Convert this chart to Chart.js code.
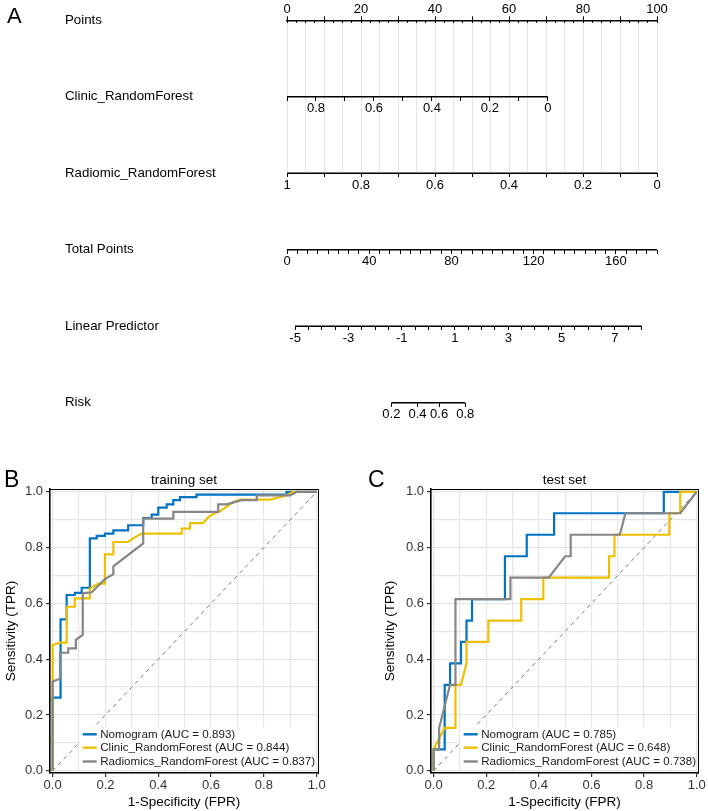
<!DOCTYPE html>
<html><head><meta charset="utf-8">
<script src="https://cdn.jsdelivr.net/npm/chart.js@4.4.1/dist/chart.umd.min.js"></script>
<style>
html,body{margin:0;padding:0;background:#fff;}
#wrap{position:relative;width:708px;height:811px;overflow:hidden;background:#fff;}
canvas{position:absolute;}
.lbl{position:absolute;font-family:"Liberation Sans",Arial,Helvetica,sans-serif;line-height:1;color:#000;}
</style></head><body>
<div id="wrap">
<canvas id="nomo" width="708" height="430" style="left:0;top:0"></canvas>
<canvas id="rocB" width="354" height="371" style="left:0;top:440px"></canvas>
<canvas id="rocC" width="354" height="371" style="left:354px;top:440px"></canvas>
<div class="lbl" style="left:7px;top:5px;font-size:22px">A</div>
<div class="lbl" style="left:4px;top:468px;font-size:23px">B</div>
<div class="lbl" style="left:368px;top:468px;font-size:23px">C</div>
</div>
<script>
const FONT = '"Liberation Sans", Arial, Helvetica, sans-serif';
Chart.defaults.font.family = FONT;
Chart.defaults.color = '#000';

// ================= Panel A : nomogram =================
const nomoRowLabels = ['Points', 'Clinic_RandomForest', 'Radiomic_RandomForest', 'Total Points', 'Linear Predictor', 'Risk'];
const nomoRowPos = [5, 4, 3, 2, 1, 0];

const pointsTicks = [0, 10, 20, 30, 40, 50, 60, 70, 80, 90, 100];
const pointsTickLabels = ['0', '', '20', '', '40', '', '60', '', '80', '', '100'];
const pointsMinorTicks = [0, 2.5, 5, 7.5, 10, 12.5, 15, 17.5, 20, 22.5, 25, 27.5, 30, 32.5, 35, 37.5, 40, 42.5, 45, 47.5, 50,
  52.5, 55, 57.5, 60, 62.5, 65, 67.5, 70, 72.5, 75, 77.5, 80, 82.5, 85, 87.5, 90, 92.5, 95, 97.5, 100];
const pointsGridStep = 5;

const clinicTicks = [0.9, 0.8, 0.7, 0.6, 0.5, 0.4, 0.3, 0.2, 0.1, 0];
const clinicTickLabels = ['', '0.8', '', '0.6', '', '0.4', '', '0.2', '', '0'];
const clinicEndPoints = [0, 70.5];      // points at first / last tick

const radiomicTicks = [1, 0.9, 0.8, 0.7, 0.6, 0.5, 0.4, 0.3, 0.2, 0.1, 0];
const radiomicTickLabels = ['1', '', '0.8', '', '0.6', '', '0.4', '', '0.2', '', '0'];
const radiomicEndPoints = [0, 100];

const totalTicks = [0, 5, 10, 15, 20, 25, 30, 35, 40, 45, 50, 55, 60, 65, 70, 75, 80, 85, 90, 95, 100, 105, 110, 115, 120,
  125, 130, 135, 140, 145, 150, 155, 160, 165, 170, 175, 180];
const totalLabelled = [0, 40, 80, 120, 160];
const totalEndPoints = [0, 100];

const lpTicks = [-5, -4.5, -4, -3.5, -3, -2.5, -2, -1.5, -1, -0.5, 0, 0.5, 1, 1.5, 2, 2.5, 3, 3.5, 4, 4.5, 5, 5.5, 6, 6.5, 7, 7.5, 8];
const lpLabelled = [-5, -3, -1, 1, 3, 5, 7];
const lpEndPoints = [2.2, 95.8];

const riskTicks = [0.2, 0.4, 0.6, 0.8];
const riskTickLabels = ['0.2', '0.4', '0.6', '0.8'];

const totalTickLabels = totalTicks.map(v => totalLabelled.includes(v) ? String(v) : '');
const lpTickLabels = lpTicks.map(v => lpLabelled.includes(v) ? String(v) : '');
const logit = p => Math.log(p / (1 - p));

function rowScale(ticks, labels, endPts, row, tickValues) {
  const vA = ticks[0], vB = ticks[ticks.length - 1];
  const slope = (vB - vA) / (endPts[1] - endPts[0]);
  const vL = vA + (0 - endPts[0]) * slope;
  const vR = vA + (100 - endPts[0]) * slope;
  const tv = tickValues || ticks;
  return {
    axis: 'x', type: 'linear', position: {y: row},
    min: Math.min(vL, vR), max: Math.max(vL, vR), reverse: vL > vR,
    afterBuildTicks: s => { s.ticks = tv.map(v => ({value: v})); },
    ticks: {autoSkip: false, maxRotation: 0, minRotation: 0, padding: 0, color: '#000',
      font: {size: 13}, callback: (v, i) => labels[i]},
    grid: {drawOnChartArea: false, drawTicks: true, tickLength: 4, tickColor: '#000', tickWidth: 1},
    border: {display: false}
  };
}
function axisLine(scaleId, v0, v1, row) {
  return {data: [{x: v0, y: row}, {x: v1, y: row}], xAxisID: scaleId, yAxisID: 'y', showLine: true,
    borderColor: '#000', borderWidth: 1.5, pointRadius: 0, clip: false};
}

new Chart(document.getElementById('nomo'), {
  type: 'scatter',
  data: {datasets: [
    axisLine('xClin', clinicTicks[0], clinicTicks[clinicTicks.length - 1], 4),
    axisLine('xRad', radiomicTicks[0], radiomicTicks[radiomicTicks.length - 1], 3),
    axisLine('xTot', totalTicks[0], totalTicks[totalTicks.length - 1], 2),
    axisLine('xLP', lpTicks[0], lpTicks[lpTicks.length - 1], 1),
    axisLine('xRisk', logit(riskTicks[0]), logit(riskTicks[riskTicks.length - 1]), 0)
  ]},
  options: {
    responsive: false, animation: false, events: [],
    layout: {padding: {left: 65, right: 51, top: 0, bottom: 256.7}},
    plugins: {legend: {display: false}, tooltip: {enabled: false}},
    scales: {
      y: {type: 'linear', position: 'left', min: 3, max: 5,
        afterFit: s => { s.width = 222; },
        afterBuildTicks: s => { s.ticks = nomoRowPos.map(v => ({value: v})); },
        ticks: {autoSkip: false, crossAlign: 'far', padding: 0, color: '#000', font: {size: 13.3},
          callback: (v, i) => nomoRowLabels[i]},
        grid: {display: false}, border: {display: false}},
      x: {type: 'linear', position: 'top', min: 0, max: 100,
        afterFit: s => { s.height = 20.3; },
        afterBuildTicks: s => { s.ticks = pointsTicks.map(v => ({value: v})); },
        ticks: {autoSkip: false, maxRotation: 0, padding: -1, color: '#000', font: {size: 13},
          callback: (v, i) => pointsTickLabels[i]},
        grid: {color: '#c4c4c4', lineWidth: 1, tickLength: 4, tickColor: '#000', tickWidth: 1},
        border: {color: '#000', width: 1.5}},
      xMinor: {axis: 'x', type: 'linear', position: {y: 5}, min: 0, max: 100, z: -1,
        afterBuildTicks: s => { s.ticks = pointsMinorTicks.map(v => ({value: v})); },
        ticks: {display: false},
        grid: {color: c => (c.tick && c.tick.value % pointsGridStep === 0) ? '#e6e6e6' : 'rgba(0,0,0,0)',
          lineWidth: 1, tickLength: 3, tickColor: '#000', tickWidth: 1},
        border: {display: false}},
      xClin: rowScale(clinicTicks, clinicTickLabels, clinicEndPoints, 4),
      xRad: rowScale(radiomicTicks, radiomicTickLabels, radiomicEndPoints, 3),
      xTot: rowScale(totalTicks, totalTickLabels, totalEndPoints, 2),
      xLP: rowScale(lpTicks, lpTickLabels, lpEndPoints, 1),
      xRisk: rowScale(lpTicks, riskTickLabels, lpEndPoints, 0, riskTicks.map(logit))
    }
  }
});

// ================= Panels B, C : ROC curves =================
const rocGrid = [0, 0.1, 0.2, 0.3, 0.4, 0.5, 0.6, 0.7, 0.8, 0.9, 1];
const rocTickLabels = ['0.0', '', '0.2', '', '0.4', '', '0.6', '', '0.8', '', '1.0'];
const seriesNames = ['Nomogram', 'Clinic_RandomForest', 'Radiomics_RandomForest'];
const seriesColors = ['#0073C2', '#EFC000', '#868686'];
const trainAUC = ['0.893', '0.844', '0.837'];
const testAUC = ['0.785', '0.648', '0.738'];
const diagFPR = [0, 1];
const diagTPR = [0, 1];

// training set
const trainNomoFPR = [0, 0, 0.03, 0.03, 0.053, 0.053, 0.084, 0.084, 0.11, 0.11, 0.141, 0.141, 0.167, 0.167, 0.198, 0.198, 0.23, 0.23,
  0.286, 0.286, 0.343, 0.343, 0.375, 0.375, 0.4, 0.4, 0.432, 0.432, 0.457, 0.457, 0.482, 0.482, 0.545, 0.545, 0.886, 0.886, 1];
const trainNomoTPR = [0, 0.262, 0.262, 0.543, 0.543, 0.63, 0.63, 0.638, 0.638, 0.656, 0.656, 0.833, 0.833, 0.842, 0.842, 0.85, 0.85, 0.862,
  0.862, 0.88, 0.88, 0.906, 0.906, 0.918, 0.918, 0.943, 0.943, 0.955, 0.955, 0.97, 0.97, 0.981, 0.981, 0.99, 0.99, 1, 1];
const trainClinFPR = [0, 0, 0.028, 0.053, 0.053, 0.084, 0.084, 0.141, 0.141, 0.173, 0.198, 0.198, 0.23, 0.23, 0.286, 0.305, 0.337,
  0.489, 0.489, 0.52, 0.52, 0.57, 0.589, 0.608, 0.633, 0.658, 0.683, 0.71, 0.823, 0.886, 0.91, 1];
const trainClinTPR = [0, 0.451, 0.459, 0.459, 0.588, 0.588, 0.618, 0.618, 0.653, 0.671, 0.671, 0.776, 0.776, 0.82, 0.82, 0.833, 0.85,
  0.85, 0.868, 0.868, 0.888, 0.888, 0.908, 0.92, 0.93, 0.946, 0.963, 0.972, 0.972, 0.987, 1, 1];
const trainRadFPR = [0, 0, 0.028, 0.028, 0.059, 0.059, 0.088, 0.088, 0.114, 0.114, 0.148, 0.198, 0.23, 0.23, 0.343, 0.343, 0.457,
  0.457, 0.627, 0.627, 0.659, 0.716, 0.773, 0.773, 0.9, 0.925, 1];
const trainRadTPR = [0, 0.32, 0.33, 0.423, 0.423, 0.439, 0.439, 0.469, 0.487, 0.636, 0.64, 0.687, 0.705, 0.733, 0.815, 0.904, 0.904,
  0.928, 0.928, 0.955, 0.955, 0.97, 0.97, 0.987, 0.987, 1, 1];

// test set
const testNomoFPR = [0, 0, 0.042, 0.042, 0.0625, 0.0625, 0.104, 0.104, 0.125, 0.125, 0.146, 0.146, 0.271, 0.271, 0.354, 0.354,
  0.458, 0.458, 0.875, 0.875, 1];
const testNomoTPR = [0, 0.077, 0.077, 0.308, 0.308, 0.385, 0.385, 0.462, 0.462, 0.538, 0.538, 0.615, 0.615, 0.769, 0.769, 0.846,
  0.846, 0.923, 0.923, 1, 1];
const testClinFPR = [0, 0, 0.042, 0.083, 0.083, 0.104, 0.125, 0.125, 0.208, 0.208, 0.333, 0.333, 0.417, 0.417, 0.667, 0.667,
  0.6875, 0.6875, 0.896, 0.896, 0.9375, 0.9375, 1];
const testClinTPR = [0, 0.077, 0.154, 0.154, 0.308, 0.308, 0.385, 0.462, 0.462, 0.538, 0.538, 0.615, 0.615, 0.692, 0.692, 0.769,
  0.769, 0.846, 0.846, 0.923, 0.923, 1, 1];
const testRadFPR = [0, 0, 0.021, 0.021, 0.0625, 0.083, 0.083, 0.292, 0.292, 0.4375, 0.5, 0.521, 0.521, 0.708, 0.729, 0.9375, 1];
const testRadTPR = [0, 0.077, 0.077, 0.154, 0.308, 0.308, 0.615, 0.615, 0.692, 0.692, 0.769, 0.769, 0.846, 0.846, 0.923, 0.923, 1];

const zip = (xs, ys) => xs.map((x, i) => ({x: x, y: ys[i]}));

function legendPlugin(items) {
  return {
    id: 'rocLegend',
    afterDatasetsDraw(chart) {
      const {ctx, chartArea: ca} = chart;
      ctx.save();
      ctx.font = '11.6px ' + FONT;
      const x0 = ca.left + 32.7, keyLen = 14, gap = 3.5;
      const ys = [ca.bottom - 38.7, ca.bottom - 25.3, ca.bottom - 11.5];
      let maxW = 0;
      items.forEach(it => { maxW = Math.max(maxW, ctx.measureText(it.text).width); });
      const bx = x0 - 3, by = ys[0] - 7;
      const bw = Math.min(keyLen + gap + maxW + 3, ca.right - 1 - bx);
      ctx.fillStyle = '#ffffff';
      ctx.fillRect(bx, by, bw, ys[2] - ys[0] + 14);
      items.forEach((it, i) => {
        ctx.strokeStyle = it.color; ctx.lineWidth = 2.4;
        ctx.beginPath(); ctx.moveTo(x0, ys[i]); ctx.lineTo(x0 + keyLen, ys[i]); ctx.stroke();
        ctx.fillStyle = '#1a1a1a'; ctx.textBaseline = 'middle'; ctx.textAlign = 'left';
        ctx.fillText(it.text, x0 + keyLen + gap, ys[i] + 0.5);
      });
      ctx.restore();
    }
  };
}

function makeRoc(id, title, series, aucs, padL, padR, yWidth) {
  const datasets = [{data: zip(diagFPR, diagTPR), borderColor: '#7a7a7a', borderWidth: 1, borderDash: [4, 4],
    showLine: true, pointRadius: 0, order: 5}];
  series.forEach((s, i) => datasets.push({label: seriesNames[i], data: zip(s[0], s[1]), borderColor: seriesColors[i],
    borderWidth: 2.2, showLine: true, pointRadius: 0, order: 3 - i}));
  const items = seriesNames.map((n, i) => ({text: n + ' (AUC = ' + aucs[i] + ')', color: seriesColors[i]}));
  const tickCol = c => rocTickLabels[c.index] ? '#333' : 'rgba(0,0,0,0)';
  return new Chart(document.getElementById(id), {
    type: 'scatter',
    data: {datasets: datasets},
    plugins: [legendPlugin(items)],
    options: {
      responsive: false, animation: false, events: [],
      layout: {padding: {left: padL, right: padR, top: 32.3, bottom: 0}},
      plugins: {
        legend: {display: false}, tooltip: {enabled: false},
        title: {display: true, text: title, fullSize: false, color: '#000', font: {size: 13.5, weight: 'normal'},
          padding: {top: 0, bottom: 0.5}}
      },
      scales: {
        x: {type: 'linear', position: 'bottom', min: -0.01, max: 1.005,
          afterBuildTicks: s => { s.ticks = rocGrid.map(v => ({value: v})); },
          afterFit: s => { s.height = 38; },
          ticks: {autoSkip: false, maxRotation: 0, padding: 1, color: '#333', font: {size: 13},
            callback: (v, i) => rocTickLabels[i]},
          grid: {color: '#e6e6e6', lineWidth: 1.2, tickLength: 4, tickWidth: 1.2, tickColor: tickCol},
          border: {color: '#000', width: 1.6},
          title: {display: true, text: '1-Specificity (FPR)', color: '#000', font: {size: 13.5},
            padding: {top: 0, bottom: 1}}},
        y: {type: 'linear', position: 'left', min: -0.008, max: 1.01,
          afterBuildTicks: s => { s.ticks = rocGrid.map(v => ({value: v})); },
          afterFit: s => { s.width = yWidth; },
          ticks: {autoSkip: false, padding: 3, color: '#333', font: {size: 13},
            callback: (v, i) => rocTickLabels[i]},
          grid: {color: '#e6e6e6', lineWidth: 1.2, tickLength: 4, tickWidth: 1.2, tickColor: tickCol},
          border: {color: '#000', width: 1.6},
          title: {display: true, text: 'Sensitivity (TPR)', color: '#000', font: {size: 13.5},
            padding: {top: 3.6, bottom: 0}}},
        x2: {type: 'linear', position: 'top', min: 0, max: 1,
          ticks: {display: false}, grid: {display: false, drawTicks: false}, border: {color: '#000', width: 1}},
        y2: {type: 'linear', position: 'right', min: 0, max: 1,
          ticks: {display: false}, grid: {display: false, drawTicks: false}, border: {color: '#000', width: 1}}
      }
    }
  });
}

makeRoc('rocB', 'training set',
  [[trainNomoFPR, trainNomoTPR], [trainClinFPR, trainClinTPR], [trainRadFPR, trainRadTPR]], trainAUC, 0, 36, 50);
makeRoc('rocC', 'test set',
  [[testNomoFPR, testNomoTPR], [testClinFPR, testClinTPR], [testRadFPR, testRadTPR]], testAUC, 25, 10, 52);
</script>
</body></html>
